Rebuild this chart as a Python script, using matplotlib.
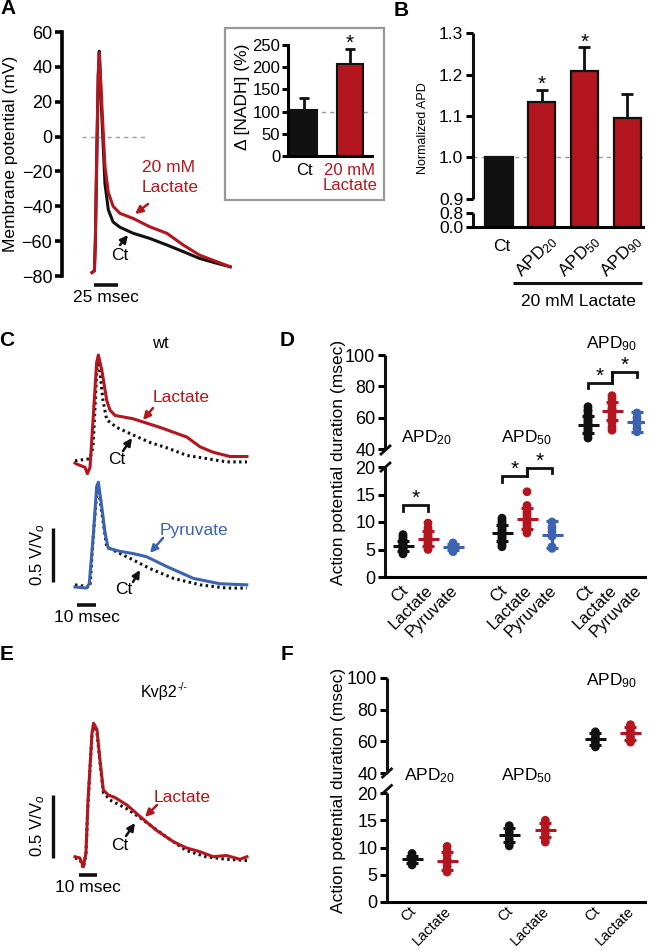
import numpy as np
import matplotlib
matplotlib.use('Agg')
import matplotlib.pyplot as plt
from matplotlib.patches import Rectangle
from matplotlib.transforms import ScaledTranslation

plt.rcParams['font.family'] = ['Liberation Sans', 'DejaVu Sans']
plt.rcParams['mathtext.fontset'] = 'custom'
plt.rcParams['mathtext.rm'] = 'Liberation Sans'
plt.rcParams['mathtext.it'] = 'Liberation Sans:italic'
plt.rcParams['mathtext.bf'] = 'Liberation Sans:bold'

RED = '#B3161E'
BLUE = '#3B63B1'
BLACK = '#111111'
GREY = '#9b9b9b'

# ---------------- DATA ----------------
# Panel A: action potentials (time ms, membrane potential mV)
a_time = [0, 2.5, 3.5, 5.0, 6.5, 7.6, 10, 13.5, 17, 22, 29, 43, 60, 78, 95, 112, 130, 144]
a_ct = [-78, -77, -60, -10, 35, 49, 15, -27, -42, -49, -52, -55.5, -58.4, -62.2, -66, -69.9, -72.7, -74.7]
a_lac = [-78, -77, -60, -10, 35, 48, 21, -17, -32, -40, -44, -47, -51.7, -55.5, -62.2, -68, -71.8, -74.7]
# Panel A inset: NADH
nadh_labels = ['Ct', '20 mM\nLactate']
nadh_mean = [103, 207]
nadh_err = [27, 34]
# Panel B: normalized APD
b_labels = ['Ct', 'APD$_{20}$', 'APD$_{50}$', 'APD$_{90}$']
b_mean = [1.0, 1.134, 1.209, 1.095]
b_err = [0.0, 0.029, 0.057, 0.058]
b_sig = [False, True, True, False]
# Panel C: optical APs (time ms, V/Vo)
c_lac_t = [0, 0.9, 5.3, 6.5, 7.9, 9.5, 11.4, 12.3, 14.1, 16.7, 18.4, 21.1, 30.5, 35.8, 44.7, 58.9, 65.8, 72.6, 81.6, 90.5]
c_lac_v = [0.0, -0.01, -0.04, -0.10, -0.04, 0.40, 0.93, 1.0, 0.86, 0.58, 0.49, 0.44, 0.41, 0.38, 0.33, 0.24, 0.15, 0.10, 0.06, 0.06]
c_ct1_t = [0, 7.9, 9.5, 11.4, 11.9, 13.2, 14.7, 16.7, 21.9, 30.5, 39.5, 48.4, 58.9, 69.5, 80, 90.5]
c_ct1_v = [0.02, 0.04, 0.15, 0.83, 0.97, 0.83, 0.58, 0.40, 0.33, 0.26, 0.19, 0.14, 0.07, 0.04, 0.01, 0.01]
c_pyr_t = [0, 6.1, 7.5, 9.6, 11.4, 12.3, 14.1, 15.8, 17.5, 23.7, 30.5, 37.7, 48.2, 62.3, 76.3, 90.4]
c_pyr_v = [0.0, -0.01, 0.03, 0.47, 0.93, 0.97, 0.74, 0.50, 0.36, 0.33, 0.31, 0.28, 0.19, 0.08, 0.03, 0.02]
c_ct2_t = [0, 7.9, 9.6, 11.9, 14.1, 16.7, 30.7, 39.5, 51.8, 65.8, 79.8, 90.4]
c_ct2_v = [0.02, 0.0, 0.47, 0.96, 0.69, 0.37, 0.25, 0.17, 0.08, 0.02, -0.01, -0.01]
# Panel E: Kvb2-/- optical APs
e_lac_t = [0, 2.8, 4.7, 6.2, 7.3, 9.6, 10.5, 12.4, 14.1, 16.0, 18.8, 22.6, 29.4, 36.7, 46.0, 55.5, 63.0, 70.6, 78.1, 85.6, 93.2, 97.2]
e_lac_v = [0.01, 0.0, -0.07, 0.04, 0.44, 0.99, 1.07, 1.02, 0.78, 0.54, 0.50, 0.48, 0.42, 0.33, 0.22, 0.13, 0.08, 0.05, 0.01, 0.02, -0.01, 0.01]
e_ct_t = [0, 2.8, 4.7, 6.2, 7.3, 9.6, 10.5, 12.4, 14.1, 16.0, 19.8, 29.4, 36.7, 51.4, 62.7, 74.0, 85.3, 97.2]
e_ct_v = [0.0, -0.01, -0.08, 0.03, 0.42, 0.98, 1.06, 1.0, 0.76, 0.52, 0.46, 0.39, 0.32, 0.17, 0.06, 0.01, -0.01, -0.02]
# Panel D: APD (msec) wt
d_labels = ['Ct', 'Lactate', 'Pyruvate'] * 3
d_group_names = ['APD$_{20}$', 'APD$_{50}$', 'APD$_{90}$']
d_ct20 = [4.2, 4.5, 4.8, 5.0, 5.2, 5.4, 5.5, 5.6, 5.8, 6.0, 6.2, 6.4, 6.7, 7.0, 7.3, 7.7]
d_lac20 = [5.0, 5.4, 5.8, 6.2, 6.5, 6.8, 7.0, 7.3, 7.6, 8.0, 8.4, 8.9, 9.8]
d_pyr20 = [4.6, 4.9, 5.2, 5.5, 5.9, 6.2]
d_ct50 = [5.5, 5.9, 6.3, 6.7, 7.0, 7.3, 7.6, 7.9, 8.2, 8.5, 8.8, 9.1, 9.5, 9.9, 10.3, 10.7]
d_lac50 = [8.0, 8.4, 8.8, 9.2, 9.6, 10.0, 10.4, 10.8, 11.3, 11.8, 12.4, 13.0, 15.5]
d_pyr50 = [5.2, 5.5, 7.4, 8.3, 9.0, 10.0]
d_ct90 = [47, 49, 51, 52, 53, 54, 55, 56, 57, 58, 59, 60, 62, 64, 65, 67]
d_lac90 = [52, 54, 57, 59, 61, 63, 64, 65, 66, 68, 70, 72, 74]
d_pyr90 = [51, 53, 56, 58, 60, 63]
d_mean = [5.7, 7.0, 5.4, 8.0, 10.6, 7.7, 55.5, 64.2, 57.2]
d_sd = [0.9, 1.3, 0.55, 1.4, 1.9, 2.5, 5.5, 6.0, 6.5]
d_sig_pairs = [(0, 1), (3, 4), (4, 5), (6, 7), (7, 8)]
d_sig_y = [13.1, 18.4, 19.8, 82, 89]
d_sig_left = [12.0, 17.3, 18.4, 79, 82]
d_sig_right = [12.0, 19.8, 18.9, 89, 86]
# Panel F: APD (msec) Kvb2-/-
f_labels = ['Ct', 'Lactate'] * 3
f_ct20 = [6.8, 7.2, 7.6, 8.0, 8.4, 8.9]
f_lac20 = [5.5, 6.0, 6.6, 7.2, 7.8, 8.6, 9.4, 10.2]
f_ct50 = [10.3, 10.8, 11.5, 12.2, 12.8, 13.4, 14.0]
f_lac50 = [11.0, 11.6, 12.5, 13.3, 14.0, 14.5, 15.0]
f_ct90 = [56.5, 58, 60, 62, 64, 66]
f_lac90 = [59.5, 61, 63, 65, 67, 69, 70.5]
f_mean = [7.8, 7.5, 12.3, 13.2, 61.5, 65.0]
f_sd = [0.6, 1.6, 1.2, 1.3, 3.5, 4.0]
axis_ticks_apd = [0, 5, 10, 15, 20, 40, 60, 80, 100]

# ---------------- LAYOUT ----------------
W, H = 650, 952
fig = plt.figure(figsize=(W / 100, H / 100), dpi=100)


def add_ax(x0, x1, ytop, ybot):
    ax = fig.add_axes([x0 / W, 1 - ybot / H, (x1 - x0) / W, (ybot - ytop) / H])
    ax.set_facecolor('none')
    return ax


ov = fig.add_axes([0, 0, 1, 1], zorder=10)
ov.set_xlim(0, W)
ov.set_ylim(H, 0)
ov.axis('off')
ov.set_facecolor('none')


def T(x, y, s, **kw):
    kw.setdefault('ha', 'center')
    kw.setdefault('va', 'center')
    ov.text(x, y, s, **kw)


def arrow(x0, y0, x1, y1, color):
    ov.annotate('', xy=(x1, y1), xytext=(x0, y0),
                arrowprops=dict(arrowstyle='-|>', color=color, lw=1.8,
                                mutation_scale=11, shrinkA=0, shrinkB=0))


def L(xs, ys, lw=2.2, color=BLACK):
    ov.plot(xs, ys, color=color, lw=lw, solid_capstyle='butt')


def pw(xs, ys):
    xs = np.array(xs, float)
    ys = np.array(ys, float)

    def f(v):
        v = np.asarray(v, float)
        out = np.interp(v, xs, ys)
        out = np.where(v < xs[0], ys[0] + (v - xs[0]) * (ys[1] - ys[0]) / (xs[1] - xs[0]), out)
        out = np.where(v > xs[-1], ys[-1] + (v - xs[-1]) * (ys[-1] - ys[-2]) / (xs[-1] - xs[-2]), out)
        return out
    return f


def clean(ax, keep=()):
    for s in ['top', 'right', 'left', 'bottom']:
        ax.spines[s].set_visible(s in keep)
        ax.spines[s].set_linewidth(2.2)


# Panel letters
for (x, y, s) in [(8, 9, 'A'), (401, 10, 'B'), (7, 340, 'C'), (287, 340, 'D'), (7, 654, 'E'), (287, 654, 'F')]:
    T(x, y, s, fontsize=15, fontweight='bold')

# ---------- Panel A ----------
axA = add_ax(62, 240, 32, 276)
axA.set_ylim(-80, 60)
axA.set_xlim(-31.25, 154.2)
axA.plot([-10, 58], [0, 0], ls=(0, (3, 3)), color=GREY, lw=1)
axA.plot(a_time, a_ct, color=BLACK, lw=2.2)
axA.plot(a_time, a_lac, color=RED, lw=2.2)
clean(axA, keep=('left',))
axA.spines['left'].set_linewidth(2.6)
axA.set_xticks([])
axA.set_yticks(range(-80, 61, 20))
axA.tick_params(axis='y', length=5, width=2.6, labelsize=13, pad=2)
axA.plot([2, 27], [-85.2, -85.2], color=BLACK, lw=2.6, clip_on=False, solid_capstyle='butt')
T(106, 298, '25 msec', fontsize=12.5)
T(11, 154, 'Membrane potential (mV)', rotation=90, fontsize=12.5)
T(168, 168, '20 mM', color=RED, fontsize=12.5)
T(170, 187, 'Lactate', color=RED, fontsize=12.5)
arrow(148, 204, 135, 214, RED)
T(120, 256, 'Ct', fontsize=12.5)
arrow(120, 245, 128, 235, BLACK)

# inset
ov.add_patch(Rectangle((225, 28), 159, 172, fill=False, ec='#999999', lw=1.6))
axI = add_ax(288, 372, 45, 156)
axI.set_ylim(0, 250)
axI.set_xlim(-0.35, 1.49)
axI.axhline(100, ls=(0, (3, 3)), color=GREY, lw=1, zorder=0)
xi = np.arange(len(nadh_mean))
axI.bar(xi, nadh_mean, width=0.57, color=[BLACK, RED], edgecolor=BLACK, lw=1.5, zorder=2)
axI.errorbar(xi, nadh_mean, yerr=[np.zeros(len(nadh_err)), nadh_err], fmt='none',
             ecolor=BLACK, elinewidth=2, capsize=3.5, capthick=2, zorder=1)
axI.annotate('*', xy=(1, nadh_mean[1] + nadh_err[1]), xytext=(0, -3), textcoords='offset points',
             ha='center', va='bottom', fontsize=15)
clean(axI, keep=('left', 'bottom'))
axI.set_yticks(range(0, 251, 50))
axI.tick_params(axis='y', length=4, width=2.2, labelsize=12, pad=1.5)
axI.set_xticks(xi)
axI.set_xticklabels(nadh_labels, fontsize=12, linespacing=1.0)
axI.tick_params(axis='x', length=0, pad=5)
axI.get_xticklabels()[1].set_color(RED)
T(243, 97, 'Δ [NADH] (%)', rotation=90, fontsize=12.5)

# ---------- Panel B ----------
axB = add_ax(473, 643, 33.3, 226.7)
fB = pw([0, 0.8, 0.9, 1.3], [0, 14, 28, 194])
iB = pw([0, 14, 28, 194], [0, 0.8, 0.9, 1.3])
axB.set_yscale('function', functions=(fB, iB))
axB.set_ylim(0, 1.3)
axB.set_xlim(-0.61, 3.37)
xb = np.arange(len(b_mean))
axB.axhline(1.0, color=GREY, ls=(0, (3, 3)), lw=1, zorder=0)
axB.bar(xb, b_mean, width=0.64, color=[BLACK, RED, RED, RED], edgecolor=BLACK, lw=1.6, zorder=2)
for i in range(len(b_mean)):
    if b_err[i] > 0:
        axB.errorbar([xb[i]], [b_mean[i]], yerr=[[0], [b_err[i]]], fmt='none', ecolor=BLACK,
                     elinewidth=2, capsize=4.5, capthick=2, zorder=1)
    if b_sig[i]:
        axB.annotate('*', xy=(xb[i], b_mean[i] + b_err[i]), xytext=(0, -3), textcoords='offset points',
                     ha='center', va='bottom', fontsize=15)
clean(axB, keep=('bottom',))
yt = axB.get_yaxis_transform()
axB.plot([0, 0], [0.9, 1.3], transform=yt, color=BLACK, lw=2.2, clip_on=False, solid_capstyle='butt')
axB.plot([0, 0], [0.0, 0.8], transform=yt, color=BLACK, lw=2.2, clip_on=False, solid_capstyle='butt')
axB.set_yticks([0, 0.8, 0.9, 1.0, 1.1, 1.2, 1.3])
axB.set_yticklabels(['0.0', '0.8', '0.9', '1.0', '1.1', '1.2', '1.3'])
axB.yaxis.set_minor_locator(matplotlib.ticker.NullLocator())
axB.tick_params(axis='y', length=5, width=2.2, labelsize=12.5, pad=2)
axB.set_xticks([])
axB.annotate(b_labels[0], xy=(xb[0], 0), xycoords=('data', 'axes fraction'), xytext=(3, -20),
             textcoords='offset pixels', ha='center', va='center', fontsize=12.5)
for i in range(1, len(b_labels)):
    axB.annotate(b_labels[i], xy=(xb[i], 0), xycoords=('data', 'axes fraction'), xytext=(6, -5),
                 textcoords='offset pixels', ha='right', va='top', rotation=45,
                 rotation_mode='anchor', fontsize=12.5)
T(423, 128, 'Normalized APD', rotation=90, fontsize=9)
L([513, 642], [283, 283], lw=2.2)
T(578, 302, '20 mM Lactate', fontsize=12.5)

# ---------- Panel C ----------
T(160, 344, 'wt', fontsize=12)
axC1 = add_ax(70, 250, 340, 475)
axC1.set_xlim(-2.63, 92.1)
axC1.set_ylim((463 - 475) / 108, (463 - 340) / 108)
axC1.plot(c_ct1_t, c_ct1_v, color=BLACK, lw=2.2, ls=(0, (0.8, 1.1)))
axC1.plot(c_lac_t, c_lac_v, color=RED, lw=2.2)
axC1.axis('off')
axC2 = add_ax(70, 250, 476, 615)
axC2.set_xlim(-2.63, 92.1)
axC2.set_ylim((587 - 615) / 108, (587 - 476) / 108)
axC2.plot(c_ct2_t, c_ct2_v, color=BLACK, lw=2.2, ls=(0, (0.8, 1.1)))
axC2.plot(c_pyr_t, c_pyr_v, color=BLUE, lw=2.2)
axC2.axis('off')
axC2.plot([-11.58, -11.58], [0.046, 0.546], color=BLACK, lw=2.4, clip_on=False, solid_capstyle='butt')
axC2.plot([1.05, 11.05], [-0.167, -0.167], color=BLACK, lw=2.6, clip_on=False, solid_capstyle='butt')
T(87, 617, '10 msec', fontsize=12.5)
T(38, 555, '0.5 V/V$_o$', rotation=90, fontsize=12)
T(181, 398, 'Lactate', color=RED, fontsize=12.5)
arrow(153, 408, 143, 420, RED)
T(117, 460, 'Ct', fontsize=12.5)
arrow(123, 451, 132, 438, BLACK)
T(194, 530, 'Pyruvate', color=BLUE, fontsize=12.5)
arrow(163, 538, 150, 553, BLUE)
T(124, 590, 'Ct', fontsize=12.5)
arrow(133, 582, 140, 570, BLACK)

# ---------- Panel E ----------
T(177, 692, 'Kvβ2', fontsize=11.5, ha='right')
T(177.5, 687, '-/-', fontsize=7.5, ha='left')
axE = add_ax(70, 250, 710, 880)
axE.set_xlim(-2.82, 98.9)
axE.set_ylim((858 - 880) / 126, (858 - 710) / 126)
axE.plot(e_ct_t, e_ct_v, color=BLACK, lw=2.2, ls=(0, (0.8, 1.1)))
axE.plot(e_lac_t, e_lac_v, color=RED, lw=2.2)
axE.axis('off')
axE.plot([-12.4, -12.4], [0.0, 0.5], color=BLACK, lw=2.4, clip_on=False, solid_capstyle='butt')
axE.plot([2.26, 12.26], [-0.135, -0.135], color=BLACK, lw=2.6, clip_on=False, solid_capstyle='butt')
T(88, 887, '10 msec', fontsize=12.5)
T(38, 826, '0.5 V/V$_o$', rotation=90, fontsize=12)
T(182, 797, 'Lactate', color=RED, fontsize=12.5)
arrow(157, 805, 145, 817, RED)
T(120, 845, 'Ct', fontsize=12.5)
arrow(126, 836, 135, 823, BLACK)


# ---------- Panels D & F ----------
def apd_panel(x0, x1, ytop, ybot, fwd_pts, xlim, pos, groups, means, sds, colors, labels,
              lab_dx, lab_fs, lab_pad):
    ax = add_ax(x0, x1, ytop, ybot)
    f = pw([0, 20, 40, 100], fwd_pts)
    fi = pw(fwd_pts, [0, 20, 40, 100])
    ax.set_yscale('function', functions=(f, fi))
    ax.set_ylim(0, 100)
    ax.set_xlim(*xlim)
    for p, g, m, s, c in zip(pos, groups, means, sds, colors):
        ax.scatter(np.full(len(g), p), g, s=40, color=c, edgecolors='none', zorder=3)
        ax.plot([p - 0.42, p + 0.42], [m, m], color=c, lw=2.2, zorder=4, solid_capstyle='butt')
        ax.errorbar([p], [m], yerr=[[s], [s]], fmt='none', ecolor=c, elinewidth=2.2,
                    capsize=4.3, capthick=2.2, zorder=4)
    clean(ax, keep=('bottom',))
    yt = ax.get_yaxis_transform()
    ax.plot([0, 0], [0, 20], transform=yt, color=BLACK, lw=2.2, clip_on=False, solid_capstyle='butt')
    ax.plot([0, 0], [40, 100], transform=yt, color=BLACK, lw=2.2, clip_on=False, solid_capstyle='butt')
    ax.set_yticks(axis_ticks_apd)
    ax.yaxis.set_minor_locator(matplotlib.ticker.NullLocator())
    ax.tick_params(axis='y', length=5, width=2.2, labelsize=13, pad=2)
    ax.set_xticks(pos)
    ax.set_xticklabels(labels, rotation=45, ha='right', rotation_mode='anchor', fontsize=lab_fs)
    ax.tick_params(axis='x', length=0, pad=lab_pad)
    off = ScaledTranslation(lab_dx / 100, 0, fig.dpi_scale_trans)
    for lab in ax.get_xticklabels():
        lab.set_transform(lab.get_transform() + off)
    return ax


d_groups = [d_ct20, d_lac20, d_pyr20, d_ct50, d_lac50, d_pyr50, d_ct90, d_lac90, d_pyr90]
d_pos = [0.72, 1.72, 2.72, 4.68, 5.68, 6.68, 8.12, 9.08, 10.08]
axD = apd_panel(385, 645, 355, 577, [0, 110, 128, 222], (0, 10.4), d_pos, d_groups,
                d_mean, d_sd, [BLACK, RED, BLUE] * 3, d_labels, -3, 12, 4)
for (i, j), y, yl, yr in zip(d_sig_pairs, d_sig_y, d_sig_left, d_sig_right):
    axD.plot([d_pos[i], d_pos[i], d_pos[j], d_pos[j]], [yl, y, y, yr], color=BLACK, lw=2,
             solid_joinstyle='miter', zorder=5)
    axD.annotate('*', xy=((d_pos[i] + d_pos[j]) / 2, y), xytext=(0, -2), textcoords='offset points',
                 ha='center', va='bottom', fontsize=15)
for (x, y) in [(385.5, 450), (385.5, 467)]:
    L([x - 5.5, x + 5.5], [y + 5, y - 5], lw=2)
T(338, 462, 'Action potential duration (msec)', rotation=90, fontsize=12.5)
T(427, 438, d_group_names[0], fontsize=12.5)
T(527, 438, d_group_names[1], fontsize=12.5)
T(612, 344, d_group_names[2], fontsize=12.5)

f_groups = [f_ct20, f_lac20, f_ct50, f_lac50, f_ct90, f_lac90]
f_pos = [1.0, 2.4, 4.88, 6.32, 8.32, 9.72]
axF = apd_panel(387, 645, 678, 902, [0, 109, 129, 224], (0, 10.3), f_pos, f_groups,
                f_mean, f_sd, [BLACK, RED] * 3, f_labels, -3, 10.5, 1.5)
for (x, y) in [(387, 773), (387, 789.5)]:
    L([x - 5.5, x + 5.5], [y + 5, y - 5], lw=2)
T(338, 790, 'Action potential duration (msec)', rotation=90, fontsize=12.5)
T(430, 776, d_group_names[0], fontsize=12.5)
T(527, 776, d_group_names[1], fontsize=12.5)
T(612, 681, d_group_names[2], fontsize=12.5)

fig.savefig('out.png', dpi=100)
